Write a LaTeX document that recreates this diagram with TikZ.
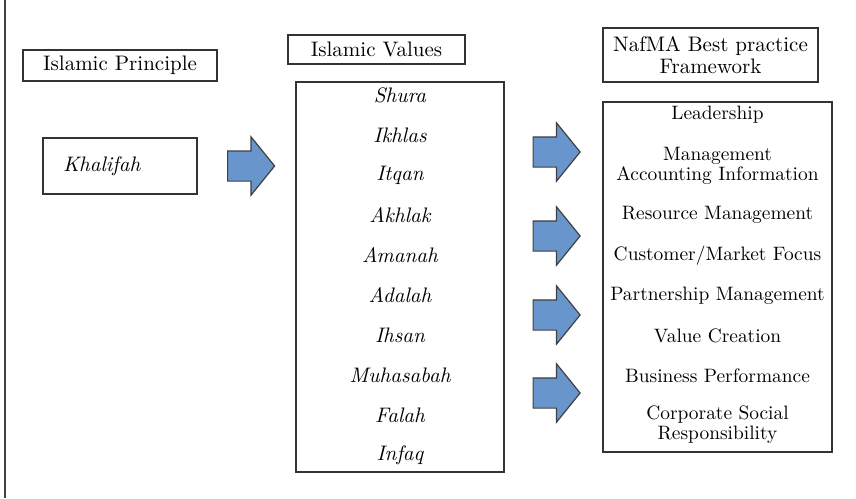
\documentclass[tikz,border=0pt]{standalone}
\usetikzlibrary{shapes.arrows}
\definecolor{arrowblue}{RGB}{104,150,204}
\tikzstyle{headbox} = [rectangle, draw=black!80, line width=0.6pt, text centered, inner sep=0pt, font=\fontsize{10.5}{11}\selectfont]
\tikzstyle{listbox} = [rectangle, draw=black!80, line width=0.6pt, inner sep=0pt]
\tikzstyle{value} = [inner sep=0pt, font=\fontsize{10.5}{12}\selectfont\itshape]
\tikzstyle{practice} = [inner sep=0pt, align=center, font=\fontsize{9.7}{10}\selectfont]
\tikzstyle{blockarrow} = [single arrow, draw=black!75, fill=arrowblue, line width=0.6pt, minimum height=23.5pt, inner xsep=0pt, inner ysep=7.25pt, single arrow head extend=7pt, single arrow tip angle=102]

\begin{document}
\begin{tikzpicture}[x=0.5pt, y=-0.5pt, node distance=20pt]
\useasboundingbox (0,0) rectangle (856,498);
\draw [line width=1pt, black!75] (5,0) -- (5,498);

\node (prin) [headbox, minimum width=97pt, minimum height=15.5pt] at (120,65.5) {Islamic Principle};
\node (khal) [listbox, minimum height=28pt, text width=57pt, inner xsep=10pt, align=left, font=\fontsize{10.5}{12}\selectfont\itshape] at (120,166) {Khalifah};
\node (arr1) [blockarrow] at (245,166) {};

\node (val) [headbox, minimum width=88.5pt, minimum height=14.5pt] at (376.5,49.5) {Islamic Values};
\node (valbox) [listbox, minimum width=104pt, minimum height=195pt] at (400,277) {};
\node (v1) [value] at (400,95) {Shura};
\node (v2) [value, below of=v1] {Ikhlas};
\node (v3) [value, below of=v2] {Itqan};
\node (v4) [value, below of=v3] {Akhlak};
\node (v5) [value, below of=v4] {Amanah};
\node (v6) [value, below of=v5] {Adalah};
\node (v7) [value, below of=v6] {Ihsan};
\node (v8) [value, below of=v7] {Muhasabah};
\node (v9) [value, below of=v8] {Falah};
\node (v10) [value, below of=v9] {Infaq};

\node (arr2) [blockarrow] at (550.5,152) {};
\node (arr3) [blockarrow] at (550.5,236) {};
\node (arr4) [blockarrow] at (550.5,315) {};
\node (arr5) [blockarrow] at (550.5,393) {};

\node (naf) [headbox, minimum width=107.5pt, minimum height=27pt, align=center] at (710.5,55) {NafMA Best practice\\Framework};
\node (fwbox) [listbox, minimum width=114.5pt, minimum height=175pt] at (717.5,277) {};
\node (f1) [practice] at (717.5,115) {Leadership};
\node (f2) [practice, below of=f1, yshift=-5.25pt] {Management\\Accounting Information};
\node (f3) [practice, below of=f2, yshift=-4.75pt] {Resource Management};
\node (f4) [practice, below of=f3, yshift=-0.5pt] {Customer/Market Focus};
\node (f5) [practice, below of=f4] {Partnership Management};
\node (f6) [practice, below of=f5] {Value Creation};
\node (f7) [practice, below of=f6] {Business Performance};
\node (f8) [practice, below of=f7, yshift=-4.5pt] {Corporate Social\\Responsibility};

\end{tikzpicture}
\end{document}
